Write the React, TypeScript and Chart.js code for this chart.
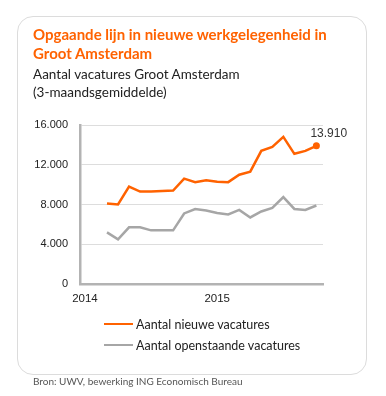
import React, { useEffect, useRef } from "react";
import { Chart, registerables } from "chart.js";

Chart.register(...registerables);

const months = [
  "2014-03", "2014-04", "2014-05", "2014-06", "2014-07", "2014-08", "2014-09", "2014-10",
  "2014-11", "2014-12", "2015-01", "2015-02", "2015-03", "2015-04", "2015-05", "2015-06",
  "2015-07", "2015-08", "2015-09", "2015-10",
];
const nieuweVacatures = [
  8100, 8000, 9800, 9300, 9300, 9350, 9400, 10600, 10250, 10450, 10300, 10250,
  11000, 11300, 13400, 13800, 14800, 13100, 13400, 13910,
];
const openstaandeVacatures = [
  5200, 4500, 5700, 5700, 5400, 5400, 5400, 7100, 7550, 7400, 7150, 7000,
  7450, 6700, 7300, 7650, 8750, 7550, 7450, 7900,
];
const yearTicks = ["2014", "2015"];
const seriesNames = ["Aantal nieuwe vacatures", "Aantal openstaande vacatures"];

const ORANGE = "#FF6200";
const GREY = "#A6A6A6";
const FONT = "Lato, 'Open Sans', sans-serif";

const baseYear = Number(yearTicks[0]);
const monthIndex = (m: string) => {
  const [y, mo] = m.split("-").map(Number);
  return (y - baseYear) * 12 + (mo - 1);
};
const fmt = (v: number) => String(Math.round(v)).replace(/\B(?=(\d{3})+(?!\d))/g, ".");

const endLabelPlugin = {
  id: "endLabel",
  afterDatasetsDraw(chart: any) {
    const meta = chart.getDatasetMeta(0);
    const last = meta.data[meta.data.length - 1];
    if (!last) return;
    const ctx = chart.ctx;
    ctx.save();
    ctx.font = "12px 'Liberation Sans', Arial, sans-serif";
    ctx.fillStyle = "#333";
    ctx.textBaseline = "alphabetic";
    ctx.textAlign = "left";
    ctx.fillText(fmt(nieuweVacatures[nieuweVacatures.length - 1]), last.x - 6, last.y - 9);
    ctx.restore();
  },
};

function LineChart() {
  const ref = useRef<HTMLCanvasElement | null>(null);
  useEffect(() => {
    if (!ref.current) return;
    const n = nieuweVacatures.length;
    const chart = new Chart(ref.current, {
      type: "line",
      data: {
        datasets: [
          {
            label: seriesNames[0],
            data: months.map((m, i) => ({ x: monthIndex(m), y: nieuweVacatures[i] })),
            borderColor: ORANGE,
            backgroundColor: ORANGE,
            borderWidth: 2.5,
            tension: 0,
            pointRadius: nieuweVacatures.map((_, i) => (i === n - 1 ? 3.5 : 0)),
            pointHoverRadius: 0,
            pointBorderWidth: 0,
          },
          {
            label: seriesNames[1],
            data: months.map((m, i) => ({ x: monthIndex(m), y: openstaandeVacatures[i] })),
            borderColor: GREY,
            backgroundColor: GREY,
            borderWidth: 2.5,
            tension: 0,
            pointRadius: 0,
          },
        ],
      },
      options: {
        animation: false,
        responsive: false,
        maintainAspectRatio: false,
        layout: { padding: { left: 0, top: 125, right: 63, bottom: 92 } },
        plugins: { legend: { display: false }, tooltip: { enabled: false }, title: { display: false } },
        scales: {
          x: {
            type: "linear",
            min: -0.45,
            max: 21.6,
            afterBuildTicks: (axis: any) => {
              axis.ticks = yearTicks.map((y) => ({ value: (Number(y) - baseYear) * 12 }));
            },
            afterFit: (axis: any) => {
              axis.height = 20;
            },
            grid: { display: false, drawTicks: false },
            border: { display: true, color: "#B3B3B3", width: 2.5 },
            ticks: {
              padding: 8,
              maxRotation: 0,
              autoSkip: false,
              color: "#222",
              font: { family: "'Liberation Sans', Arial, sans-serif", size: 11.5 },
              callback: (v: any) => String(baseYear + Math.round(Number(v) / 12)),
            },
          },
          y: {
            min: 0,
            max: 16000,
            afterFit: (axis: any) => {
              axis.width = 80;
            },
            grid: { color: "#DDDDDD", lineWidth: 1, drawTicks: false },
            border: { display: true, color: "#B3B3B3", width: 2.5 },
            ticks: {
              stepSize: 4000,
              padding: 12,
              color: "#222",
              font: { family: "'Liberation Sans', Arial, sans-serif", size: 11 },
              callback: (v: any) => fmt(Number(v)),
            },
          },
        },
      },
      plugins: [endLabelPlugin],
    } as any);
    return () => chart.destroy();
  }, []);
  return (
    <canvas
      ref={ref}
      width={386}
      height={396}
      style={{ position: "absolute", left: 0, top: 0, width: 386, height: 396 }}
    />
  );
}

export default function App() {
  return (
    <div
      style={{
        position: "fixed",
        left: 0,
        top: 0,
        width: 386,
        height: 396,
        background: "#fff",
        fontFamily: FONT,
        overflow: "hidden",
      }}
    >
      <div
        style={{
          position: "absolute",
          left: 17,
          top: 16,
          width: 350,
          height: 359,
          border: "1px solid #DCDCDC",
          borderRadius: 16,
          boxSizing: "border-box",
        }}
      />
      <LineChart />
      <div
        style={{
          position: "absolute",
          left: 33,
          top: 25,
          color: ORANGE,
          fontWeight: 700,
          fontSize: 15,
          lineHeight: "18.5px",
          width: 320,
        }}
      >
        Opgaande lijn in nieuwe werkgelegenheid in
        <br />
        Groot Amsterdam
      </div>
      <div
        style={{
          position: "absolute",
          left: 33,
          top: 65,
          color: "#222",
          fontSize: 13.5,
          lineHeight: "18px",
        }}
      >
        Aantal vacatures Groot Amsterdam
        <br />
        (3-maandsgemiddelde)
      </div>
      {seriesNames.map((name, i) => (
        <div
          key={name}
          style={{
            position: "absolute",
            left: 104,
            top: 316 + i * 21,
            display: "flex",
            alignItems: "center",
            height: 16,
            fontSize: 12.5,
            color: "#222",
          }}
        >
          <span
            style={{
              display: "inline-block",
              width: 29,
              height: 2.5,
              background: i === 0 ? ORANGE : GREY,
              marginRight: 3,
            }}
          />
          <span>{name}</span>
        </div>
      ))}
      <div
        style={{
          position: "absolute",
          left: 33,
          top: 375,
          fontSize: 10,
          color: "#555",
        }}
      >
        Bron: UWV, bewerking ING Economisch Bureau
      </div>
    </div>
  );
}
